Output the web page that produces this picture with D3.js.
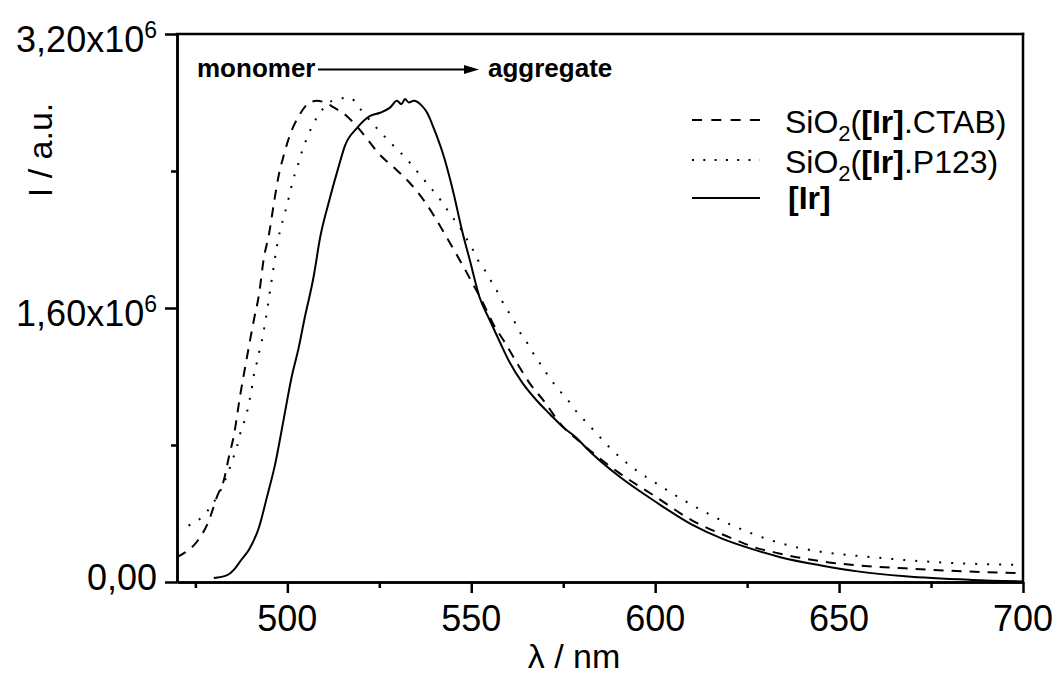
<!DOCTYPE html>
<html>
<head>
<meta charset="utf-8">
<script src="https://cdnjs.cloudflare.com/ajax/libs/d3/7.8.5/d3.min.js"></script>
<style>
    body { margin: 0; background: #fff; }
    svg text { font-family: Arial, "Liberation Sans", sans-serif; fill: #000; }
</style>
</head>
<body>
<svg id="chart" width="1057" height="677"></svg>
<script>
// emission spectra, intensity in units of 1e6
var ctabNm = [470, 472, 475.4, 478.7, 480.9, 482.8, 484.1, 485.5, 487.1, 489, 490.9, 492.3, 493.6, 495, 496.4, 497.7, 499, 500.7, 503.1, 506.1, 508, 510.2, 512.7, 516.2, 518.9, 521.6, 524.9, 529, 533.3, 537.4, 541.5, 544.2, 547.4, 550.2, 553.2, 555.9, 559.1, 562.4, 565.9, 570, 574, 580, 590, 600, 610, 618, 622, 626, 634, 645.5, 655, 668, 682, 700];
var ctabI  = [0.146, 0.17, 0.235, 0.36, 0.50, 0.60, 0.73, 0.86, 1.08, 1.31, 1.53, 1.68, 1.89, 2.03, 2.22, 2.38, 2.49, 2.61, 2.72, 2.80, 2.81, 2.80, 2.77, 2.72, 2.66, 2.59, 2.50, 2.42, 2.33, 2.22, 2.08, 1.98, 1.86, 1.75, 1.63, 1.51, 1.40, 1.28, 1.16, 1.05, 0.93, 0.81, 0.64, 0.50, 0.36, 0.28, 0.245, 0.21, 0.165, 0.12, 0.097, 0.08, 0.064, 0.052];

var p123Nm = [470, 473.2, 476.8, 479.5, 482.8, 484.1, 485.2, 486.3, 487.1, 488.2, 489, 489.8, 490.4, 490.9, 491.7, 492.3, 493.1, 494, 495, 496, 497, 498, 499, 500, 501, 502, 503.1, 504.2, 505.3, 506.7, 508.9, 511.3, 514, 517, 519.5, 524.3, 526.5, 529.2, 532, 534.4, 537.1, 539.8, 542, 544.2, 546.6, 548.3, 550.2, 551.8, 553.7, 555.6, 557.5, 559.1, 561.3, 562.9, 565.1, 567, 569.2, 571.4, 573.5, 576, 578.4, 581.4, 584.4, 587.4, 595, 600, 610, 620, 632, 639, 645.5, 659, 668, 682, 700];
var p123I  = [0.31, 0.33, 0.38, 0.45, 0.58, 0.65, 0.72, 0.79, 0.86, 0.93, 0.99, 1.07, 1.14, 1.21, 1.28, 1.34, 1.41, 1.52, 1.66, 1.80, 1.94, 2.05, 2.13, 2.21, 2.30, 2.38, 2.45, 2.53, 2.59, 2.66, 2.74, 2.80, 2.82, 2.83, 2.77, 2.65, 2.60, 2.54, 2.48, 2.42, 2.35, 2.28, 2.22, 2.15, 2.08, 2.02, 1.95, 1.88, 1.82, 1.75, 1.68, 1.61, 1.54, 1.47, 1.40, 1.33, 1.26, 1.19, 1.13, 1.07, 1.00, 0.93, 0.86, 0.79, 0.65, 0.58, 0.45, 0.34, 0.24, 0.20, 0.175, 0.145, 0.128, 0.11, 0.10];

var irNm = [480, 483.6, 485.8, 487.5, 489.6, 492.3, 494.5, 496.7, 499, 501.2, 503.1, 504.5, 507.2, 508.9, 511.3, 514, 515.7, 518.9, 522.4, 525.2, 527.9, 529.8, 531, 532, 533, 534.4, 536.6, 538, 539.8, 542.6, 545.3, 547.4, 549.6, 552.3, 555, 557.8, 560.5, 564, 567.8, 571.4, 574.9, 578.7, 581.4, 590, 600, 610, 618, 626, 634, 645.5, 655, 668, 686, 700];
var irI  = [0.023, 0.04, 0.08, 0.13, 0.19, 0.32, 0.50, 0.69, 0.95, 1.20, 1.37, 1.52, 1.79, 2.01, 2.22, 2.43, 2.55, 2.65, 2.72, 2.74, 2.77, 2.81, 2.79, 2.82, 2.80, 2.81, 2.78, 2.74, 2.65, 2.48, 2.26, 2.06, 1.88, 1.66, 1.53, 1.40, 1.28, 1.16, 1.06, 0.98, 0.905, 0.84, 0.78, 0.62, 0.47, 0.335, 0.255, 0.195, 0.145, 0.095, 0.062, 0.033, 0.012, 0.003];

var xMajor = [500, 550, 600, 650, 700];
var xMinor = [475, 525, 575, 625, 675];
var yMajor = [0, 1.6, 3.2];
var yMinor = [0.8, 2.4];
var yMant = ["0,00", "1,60x10", "3,20x10"];
var yExp  = ["", "6", "6"];

var svg = d3.select("#chart");
var pLeft = 177, pRight = 1023, pTop = 34, pBottom = 582;

var x = d3.scaleLinear().domain([470, 700]).range([pLeft, pRight]);
var y = d3.scaleLinear().domain([0, 3.2]).range([pBottom, pTop]);

svg.append("defs").append("clipPath").attr("id", "clip")
    .append("rect").attr("x", pLeft).attr("y", pTop)
    .attr("width", pRight - pLeft).attr("height", pBottom - pTop);

var line = d3.line()
    .curve(d3.curveMonotoneX)
    .x(function(d) { return x(d[0]); })
    .y(function(d) { return y(d[1]); });

var series = [
    { nm: ctabNm, v: ctabI, dash: "10,8" },
    { nm: p123Nm, v: p123I, dash: "2,10" },
    { nm: irNm,   v: irI,   dash: null }
];

var g = svg.append("g").attr("clip-path", "url(#clip)");
series.forEach(function(s) {
    var pts = s.nm.map(function(n, i) { return [n, s.v[i]]; });
    g.append("path")
        .attr("d", line(pts))
        .attr("fill", "none")
        .attr("stroke", "#000")
        .attr("stroke-width", 2)
        .attr("stroke-dasharray", s.dash);
});

// axes
svg.append("g").attr("transform", "translate(0," + pBottom + ")")
    .call(d3.axisBottom(x).tickValues(xMajor).tickSize(11).tickSizeOuter(0).tickFormat(""));
svg.append("g").attr("transform", "translate(0," + pBottom + ")")
    .call(d3.axisBottom(x).tickValues(xMinor).tickSize(6).tickSizeOuter(0).tickFormat(""));
svg.append("g").attr("transform", "translate(" + pLeft + ",0)")
    .call(d3.axisLeft(y).tickValues(yMajor).tickSize(12).tickSizeOuter(0).tickFormat(""));
svg.append("g").attr("transform", "translate(" + pLeft + ",0)")
    .call(d3.axisLeft(y).tickValues(yMinor).tickSize(6).tickSizeOuter(0).tickFormat(""));

svg.selectAll(".domain, .tick line").attr("stroke", "#000").attr("stroke-width", 2.5);

// frame top and right
svg.append("line").attr("x1", pLeft).attr("x2", pRight).attr("y1", pTop).attr("y2", pTop)
    .attr("stroke", "#000").attr("stroke-width", 2.5).attr("stroke-linecap", "square");
svg.append("line").attr("x1", pRight).attr("x2", pRight).attr("y1", pTop).attr("y2", pBottom)
    .attr("stroke", "#000").attr("stroke-width", 2.5).attr("stroke-linecap", "square");

// tick labels
svg.selectAll(".xlab").data(xMajor).enter().append("text")
    .attr("x", function(d) { return x(d); })
    .attr("y", pBottom + 49)
    .attr("text-anchor", "middle")
    .attr("font-size", 36)
    .text(function(d) { return d; });

yMajor.forEach(function(v, i) {
    var t = svg.append("text")
        .attr("x", 157)
        .attr("y", y(v) + (yExp[i] ? 18 : 8))
        .attr("text-anchor", "end")
        .attr("font-size", 36);
    t.append("tspan").text(yMant[i]);
    if (yExp[i]) {
        t.append("tspan").attr("font-size", 23).attr("dy", -14).text(yExp[i]);
    }
});

// axis titles
svg.append("text").attr("x", 574).attr("y", 668).attr("text-anchor", "middle")
    .attr("font-size", 34).text("λ / nm");
svg.append("text").attr("transform", "translate(52,150) rotate(-90)")
    .attr("text-anchor", "middle").attr("font-size", 34).text("I / a.u.");

// annotation
svg.append("text").attr("x", 197).attr("y", 77).attr("font-size", 26)
    .attr("font-weight", "bold").text("monomer");
svg.append("line").attr("x1", 318).attr("x2", 466).attr("y1", 69.5).attr("y2", 69.5)
    .attr("stroke", "#000").attr("stroke-width", 2);
svg.append("path").attr("d", "M464,65 L479,69.5 L464,74 Z").attr("fill", "#000");
svg.append("text").attr("x", 488).attr("y", 77).attr("font-size", 26)
    .attr("font-weight", "bold").text("aggregate");

// legend
var legY = [120, 160, 198];
series.forEach(function(s, i) {
    svg.append("line").attr("x1", 692).attr("x2", 760).attr("y1", legY[i]).attr("y2", legY[i])
        .attr("stroke", "#000").attr("stroke-width", 2)
        .attr("stroke-dasharray", s.dash ? (i === 0 ? "10,9.3" : "2,9.3") : null);
});
function sioLabel(yb, tail) {
    var t = svg.append("text").attr("x", 785).attr("y", yb).attr("font-size", 32);
    t.append("tspan").text("SiO");
    t.append("tspan").attr("font-size", 22).attr("dy", 8).text("2");
    t.append("tspan").attr("dy", -8).text("(");
    t.append("tspan").attr("font-weight", "bold").text("[Ir]");
    t.append("tspan").text(tail);
}
sioLabel(133, ".CTAB)");
sioLabel(173, ".P123)");
svg.append("text").attr("x", 788).attr("y", 209).attr("font-size", 32)
    .attr("font-weight", "bold").text("[Ir]");
</script>
</body>
</html>
